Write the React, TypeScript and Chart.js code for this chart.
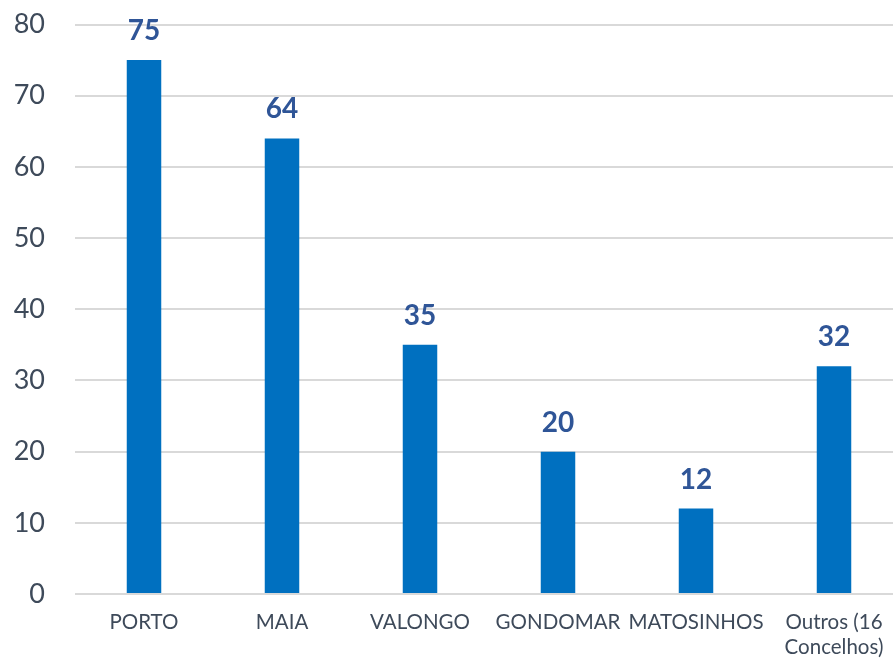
import React, { useEffect, useRef } from "react";
import { Chart, registerables } from "chart.js";

Chart.register(...registerables);

const categories: (string | string[])[] = [
  "PORTO",
  "MAIA",
  "VALONGO",
  "GONDOMAR",
  "MATOSINHOS",
  ["Outros (16", "Concelhos)"],
];
const values: number[] = [75, 64, 35, 20, 12, 32];
const yTicks: number[] = [0, 10, 20, 30, 40, 50, 60, 70, 80];

const FONT = "Lato, 'Open Sans', sans-serif";

const dataLabelPlugin = {
  id: "dataLabels",
  afterDatasetsDraw(chart: any) {
    const ctx = chart.ctx;
    const meta = chart.getDatasetMeta(0);
    const data = chart.data.datasets[0].data as number[];
    ctx.save();
    ctx.font = `bold 28px ${FONT}`;
    ctx.fillStyle = "#2F5597";
    ctx.textAlign = "center";
    ctx.textBaseline = "alphabetic";
    meta.data.forEach((el: any, i: number) => {
      ctx.fillText(String(data[i]), el.x, el.y - 20);
    });
    ctx.restore();
  },
};

export default function App() {
  const ref = useRef<HTMLCanvasElement | null>(null);
  useEffect(() => {
    if (!ref.current) return;
    const chart = new Chart(ref.current, {
      type: "bar",
      data: {
        labels: categories,
        datasets: [
          {
            data: values,
            backgroundColor: "#0070C0",
            borderWidth: 0,
            categoryPercentage: 1,
            barPercentage: 0.25,
          },
        ],
      },
      options: {
        responsive: false,
        animation: false,
        devicePixelRatio: 1,
        layout: { padding: { top: 24.5, right: 2, left: 0, bottom: 0 } },
        plugins: {
          legend: { display: false },
          tooltip: { enabled: false },
          title: { display: false },
        },
        scales: {
          x: {
            grid: { display: false, drawTicks: false },
            border: { display: false },
            ticks: {
              color: "#3E4A5A",
              font: { family: FONT, size: 20.5 },
              padding: 16,
              maxRotation: 0,
              autoSkip: false,
            },
            afterFit: (scale: any) => {
              scale.height = 71;
            },
          },
          y: {
            min: 0,
            max: 80,
            afterBuildTicks: (scale: any) => {
              scale.ticks = yTicks.map((v) => ({ value: v }));
            },
            grid: { color: "#D9D9D9", lineWidth: 2, drawTicks: false },
            border: { display: false },
            ticks: {
              color: "#3E4A5A",
              font: { family: FONT, size: 27 },
              padding: 30,
            },
            afterFit: (scale: any) => {
              scale.width = 75;
              scale.paddingTop = 0;
              scale.paddingBottom = 0;
            },
          },
        },
      },
      plugins: [dataLabelPlugin],
    });
    return () => chart.destroy();
  }, []);
  return (
    <div
      style={{
        position: "fixed",
        left: 0,
        top: 0,
        width: 893,
        height: 665,
        overflow: "hidden",
        background: "#fff",
      }}
    >
      <canvas
        ref={ref}
        width={905}
        height={665}
        style={{ display: "block", width: 905, height: 665 }}
      />
    </div>
  );
}
